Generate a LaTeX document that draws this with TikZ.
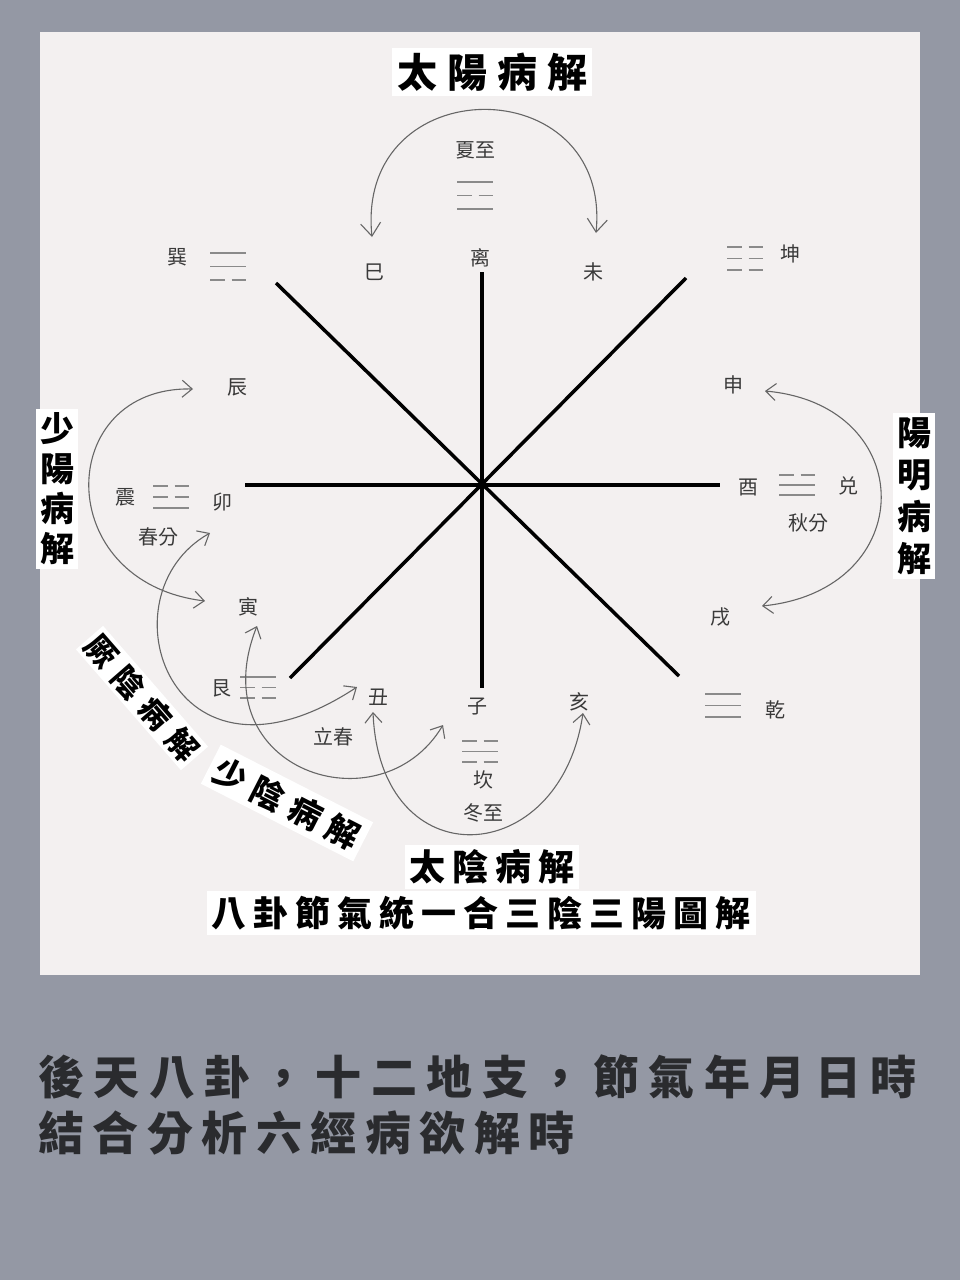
\documentclass[tikz,border=0pt]{standalone}
\usepackage{fontspec}
\newfontfamily\cjk{Noto Sans CJK TC}
\usetikzlibrary{arrows.meta}
\newlength\cg
\newcommand\ks{\hspace{\cg}}
\definecolor{bgc}{HTML}{9498A4}
\definecolor{panel}{HTML}{F3F0F0}
\definecolor{lbl}{HTML}{3A3A3A}
\definecolor{tgc}{HTML}{8A8A8A}
\definecolor{arc}{HTML}{666666}
\definecolor{capc}{HTML}{2A2B2E}
\newcommand\tgline[3]{%
  \ifnum#3=1
    \draw[tg] ({#1-18},{#2}) -- ({#1+18},{#2});
  \else
    \draw[tg] ({#1-18},{#2}) -- ({#1-3.5},{#2}) ({#1+3.5},{#2}) -- ({#1+18},{#2});
  \fi}
\newcommand\trigram[7]{%
  \coordinate (#1) at (#2,{#3+#4});
  \tgline{#2}{#3}{#5}\tgline{#2}{#3+#4}{#6}\tgline{#2}{#3+2*#4}{#7}}
\begin{document}
\begin{tikzpicture}[x=1pt,y=-1pt,
  lab/.style={font=\cjk\fontsize{20}{20}\selectfont, text=lbl, inner sep=0pt},
  tg/.style={draw=tgc, line width=1.5pt},
  axisline/.style={draw=black, line width=3.5pt},
  arr/.style={draw=arc, line width=1.1pt, {Straight Barb[length=10pt,width=17pt]}-{Straight Barb[length=10pt,width=17pt]}},
  bigarr/.style={draw=arc, line width=1.1pt, {Straight Barb[length=13pt,width=20pt]}-{Straight Barb[length=13pt,width=20pt]}},
  tbox/.style={fill=white, text=black, inner sep=5pt}
]
\fill[bgc] (0,0) rectangle (960,1280);
\useasboundingbox (0,0) rectangle (960,1280);
\fill[panel] (40,32) rectangle (920,975);

% axes
\coordinate (c) at (482,485);
\coordinate (eN) at (482,272);
\coordinate (eS) at (482,688);
\coordinate (eW) at (245,485);
\coordinate (eE) at (720,485);
\coordinate (eNW) at (276,283);
\coordinate (eNE) at (686,278);
\coordinate (eSW) at (290,678);
\coordinate (eSE) at (679,676);
\draw[axisline] (eN) -- (eS);
\draw[axisline] (eW) -- (eE);
\draw[axisline] (eNW) -- (eSE);
\draw[axisline] (eNE) -- (eSW);

% trigrams
\trigram{li}{475}{182}{13.5}{1}{0}{1}
\trigram{xun}{228}{253}{13.5}{1}{1}{0}
\trigram{kun}{745}{247}{11.5}{0}{0}{0}
\trigram{zhen}{171}{486}{11}{0}{0}{1}
\trigram{dui}{797}{475}{10}{0}{1}{1}
\trigram{qian}{723}{694}{11.5}{1}{1}{1}
\trigram{kan}{480}{741}{10.5}{0}{1}{0}
\trigram{gen}{258}{677}{10.5}{1}{0}{0}

% labels
\node[lab] (xiazhi) at (475,150) {夏至};
\node[lab] (si) at (374,272) {巳};
\node[lab] (lichar) at (480,258) {离};
\node[lab] (wei) at (593,272) {未};
\node[lab] (xunc) at (177,257) {巽};
\node[lab] (kunc) at (790,254) {坤};
\node[lab] (chen) at (237,387) {辰};
\node[lab] (shen) at (733,385) {申};
\node[lab] (zhenc) at (125,497) {震};
\node[lab] (mao) at (222,502) {卯};
\node[lab] (chunfen) at (158,537) {春分};
\node[lab] (you) at (748,487) {酉};
\node[lab] (duic) at (848,486) {兑};
\node[lab] (qiufen) at (808,523) {秋分};
\node[lab] (yin) at (248,607) {寅};
\node[lab] (xu) at (720,617) {戌};
\node[lab] (genc) at (221,688) {艮};
\node[lab] (chou) at (378,697) {丑};
\node[lab] (lichun) at (333,737) {立春};
\node[lab] (zi) at (477,707) {子};
\node[lab] (kanc) at (483,780) {坎};
\node[lab] (dongzhi) at (483,813) {冬至};
\node[lab] (hai) at (579,702) {亥};
\node[lab] (qianc) at (775,710) {乾};

% arrow end points
\coordinate (aSi) at (372,237);
\coordinate (aWei) at (596,233);
\coordinate (aChen) at (193,389);
\coordinate (aYin) at (205,601);
\coordinate (aShen) at (765,391);
\coordinate (aXu) at (762,606);
\coordinate (aMao) at (210,533);
\coordinate (aChou) at (357,687);
\coordinate (aYin2) at (257,626);
\coordinate (aZi) at (443,725);
\coordinate (aChou2) at (373,712);
\coordinate (aHai) at (583,713);

\draw[bigarr] (aSi) .. controls (355,68) and (612,68) .. (aWei);
\draw[arr] (aChen) .. controls (55,386) and (50,582) .. (aYin);
\draw[arr] (aShen) .. controls (920,405) and (920,590) .. (aXu);
\draw[arr] (aMao) .. controls (100,595) and (170,810) .. (aChou);
\draw[arr] (aYin2) .. controls (200,770) and (380,830) .. (aZi);
\draw[arr] (aChou2) .. controls (380,880) and (560,870) .. (aHai);

% title boxes
\node[tbox, font={\cjk\bfseries\fontsize{40}{40}\selectfont\setlength\cg{10pt}}] (tyang) at (492,72) {太\ks{}陽\ks{}病\ks{}解};
\node[tbox, font={\cjk\bfseries\fontsize{34}{40}\selectfont}, align=center, inner sep=4pt] (shaoyang) at (57,489) {少\\陽\\病\\解};
\node[tbox, font={\cjk\bfseries\fontsize{34}{42}\selectfont}, align=center, inner sep=4pt] (yangming) at (914,496) {陽\\明\\病\\解};
\node[tbox, rotate=-49, font={\cjk\bfseries\fontsize{31}{31}\selectfont\setlength\cg{10pt}}, inner sep=3pt] (jueyin) at (142,698) {厥\ks{}陰\ks{}病\ks{}解};
\node[tbox, rotate=-27, font={\cjk\bfseries\fontsize{33}{33}\selectfont\setlength\cg{9pt}}, inner sep=6pt] (shaoyin) at (287,803) {少\ks{}陰\ks{}病\ks{}解};
\node[tbox, font={\cjk\bfseries\fontsize{36}{36}\selectfont\setlength\cg{7pt}}, inner sep=4.5pt] (taiyin) at (492,867) {太\ks{}陰\ks{}病\ks{}解};
\node[tbox, font={\cjk\bfseries\fontsize{35}{35}\selectfont\setlength\cg{7pt}}, inner sep=5pt] (maintitle) at (481,913) {八\ks{}卦\ks{}節\ks{}氣\ks{}統\ks{}一\ks{}合\ks{}三\ks{}陰\ks{}三\ks{}陽\ks{}圖\ks{}解};

% caption
\node[anchor=west, text=capc, inner sep=0pt, font={\cjk\bfseries\fontsize{46}{46}\selectfont\setlength\cg{9.5pt}}] (cap1) at (38,1077) {後\ks{}天\ks{}八\ks{}卦\ks{}，\ks{}十\ks{}二\ks{}地\ks{}支\ks{}，\ks{}節\ks{}氣\ks{}年\ks{}月\ks{}日\ks{}時};
\node[anchor=west, text=capc, inner sep=0pt, font={\cjk\bfseries\fontsize{46}{46}\selectfont\setlength\cg{8.5pt}}] (cap2) at (38,1133) {結\ks{}合\ks{}分\ks{}析\ks{}六\ks{}經\ks{}病\ks{}欲\ks{}解\ks{}時};
\end{tikzpicture}
\end{document}
